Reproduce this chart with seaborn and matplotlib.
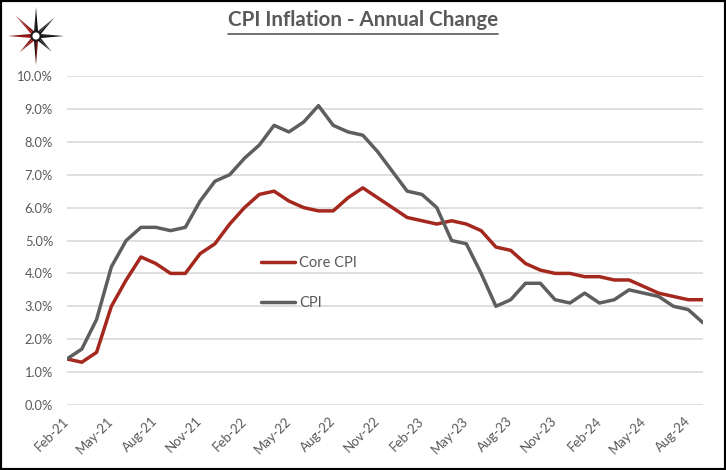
import numpy as np
import pandas as pd
import matplotlib
matplotlib.use("Agg")
from matplotlib import pyplot as plt
from matplotlib.patches import Polygon, Circle, Rectangle
from matplotlib.lines import Line2D
from matplotlib.ticker import PercentFormatter
import seaborn as sns

# month labels (as shown on the chart)
months = ["Feb-21", "Mar-21", "Apr-21", "May-21", "Jun-21", "Jul-21", "Aug-21", "Sep-21",
          "Oct-21", "Nov-21", "Dec-21", "Jan-22", "Feb-22", "Mar-22", "Apr-22", "May-22",
          "Jun-22", "Jul-22", "Aug-22", "Sep-22", "Oct-22", "Nov-22", "Dec-22", "Jan-23",
          "Feb-23", "Mar-23", "Apr-23", "May-23", "Jun-23", "Jul-23", "Aug-23", "Sep-23",
          "Oct-23", "Nov-23", "Dec-23", "Jan-24", "Feb-24", "Mar-24", "Apr-24", "May-24",
          "Jun-24", "Jul-24", "Aug-24", "Sep-24"]

cpi = [1.4, 1.7, 2.6, 4.2, 5.0, 5.4, 5.4, 5.3, 5.4, 6.2, 6.8, 7.0,
       7.5, 7.9, 8.5, 8.3, 8.6, 9.1, 8.5, 8.3, 8.2, 7.7, 7.1, 6.5,
       6.4, 6.0, 5.0, 4.9, 4.0, 3.0, 3.2, 3.7, 3.7, 3.2, 3.1, 3.4,
       3.1, 3.2, 3.5, 3.4, 3.3, 3.0, 2.9, 2.5]

core_cpi = [1.4, 1.3, 1.6, 3.0, 3.8, 4.5, 4.3, 4.0, 4.0, 4.6, 4.9, 5.5,
            6.0, 6.4, 6.5, 6.2, 6.0, 5.9, 5.9, 6.3, 6.6, 6.3, 6.0, 5.7,
            5.6, 5.5, 5.6, 5.5, 5.3, 4.8, 4.7, 4.3, 4.1, 4.0, 4.0, 3.9,
            3.9, 3.8, 3.8, 3.6, 3.4, 3.3, 3.2, 3.2]

tick_labels = months[::3]

df = pd.DataFrame({"idx": range(len(months)), "Core CPI": core_cpi, "CPI": cpi})
long = df.melt(id_vars="idx", var_name="series", value_name="value")

sns.set_theme(style="white")
plt.rcParams["font.family"] = ["Lato", "DejaVu Sans"]

grey_txt = "#595959"
colors = {"Core CPI": "#a5281e", "CPI": "#5e5e5e"}

fig = plt.figure(figsize=(7.26, 4.70), dpi=100)
ax = fig.add_axes([67 / 726, 1 - 405 / 470, 636 / 726, 329 / 470])

sns.lineplot(data=long, x="idx", y="value", hue="series", palette=colors,
             linewidth=2.5, ax=ax, solid_joinstyle="round", solid_capstyle="round")

ax.set_xlim(0, len(months) - 1)
ax.set_ylim(0, 10)
ax.set_yticks(np.arange(0, 10.5, 1))
ax.yaxis.set_major_formatter(PercentFormatter(xmax=100, decimals=1))
ax.set_xticks(range(0, len(months), 3))
ax.set_xticklabels(tick_labels, rotation=45, ha="right", va="center", rotation_mode="anchor")
ax.tick_params(axis="x", length=0, pad=10, labelsize=9.5, labelcolor=grey_txt)
ax.tick_params(axis="y", length=0, pad=10, labelsize=9.3, labelcolor=grey_txt)
ax.set_xlabel("")
ax.set_ylabel("")
for s in ax.spines.values():
    s.set_visible(False)
ax.grid(axis="y", color="#d9d9d9", linewidth=1.2)
ax.grid(axis="x", visible=False)
ax.set_axisbelow(True)

handles, labels = ax.get_legend_handles_labels()
leg = ax.legend(handles, labels, loc="center left", bbox_to_anchor=(0.305, 0.371),
                frameon=False, fontsize=10.5, handlelength=2.3, handletextpad=0.3,
                labelspacing=1.75, borderpad=0, borderaxespad=0)
for t in leg.get_texts():
    t.set_color(grey_txt)

# title with underline
title = fig.text(0.5, 1 - 26 / 470, "CPI Inflation - Annual Change", ha="center",
                 va="baseline", fontsize=14.8, fontweight="bold", color=grey_txt)
fig.canvas.draw()
bb = title.get_window_extent(fig.canvas.get_renderer()).transformed(fig.transFigure.inverted())
fig.add_artist(Line2D([bb.x0, bb.x1], [1 - 33.5 / 470] * 2, transform=fig.transFigure,
                      color=grey_txt, linewidth=1.2))

# logo star
lg = fig.add_axes([0, 1 - 72 / 470, 72 / 726, 72 / 470])
lg.set_xlim(-36, 36)
lg.set_ylim(-36, 36)
lg.axis("off")
# (length, colour of left half, colour of right half) going clockwise from north
spikes = [(29, "#2b2b2b", "#111111"), (26, "#2b2b2b", "#111111"), (28, "#2b2b2b", "#111111"),
          (22, "#2b2b2b", "#111111"), (29, "#6e1414", "#2a1010"), (23, "#a31c1c", "#7a1212"),
          (28, "#a31c1c", "#7a1212"), (29, "#a31c1c", "#7a1212")]
for k, (r, c1, c2) in enumerate(spikes):
    ang = np.pi / 2 - k * np.pi / 4
    tip = r * np.array([np.cos(ang), np.sin(ang)])
    for sgn, col in ((1, c1), (-1, c2)):
        side = 5.0 * np.array([np.cos(ang + sgn * 0.42), np.sin(ang + sgn * 0.42)])
        lg.add_patch(Polygon([(0, 0), tuple(tip), tuple(side)], closed=True, color=col, lw=0))
lg.add_patch(Circle((0, 0), 4.5, facecolor="white", edgecolor="#1a1a1a", lw=1.3, zorder=5))

fig.add_artist(Rectangle((0, 0), 1, 1, transform=fig.transFigure, fill=False,
                         edgecolor="black", linewidth=3))

fig.savefig("out.png", dpi=100)
